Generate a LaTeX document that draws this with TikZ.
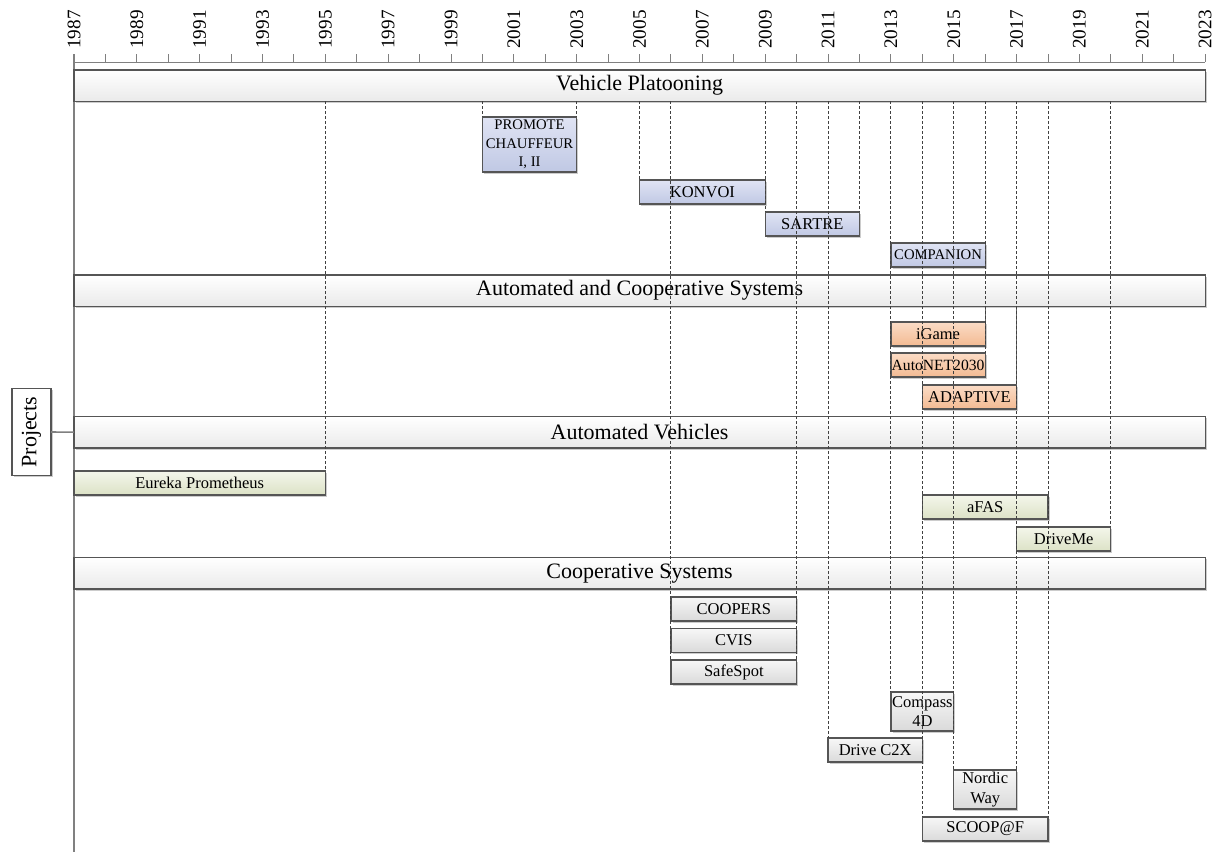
\documentclass[tikz,border=0pt]{standalone}
\usepackage{fontspec}
\setmainfont{Liberation Serif}
\usetikzlibrary{shadows}

\definecolor{boxline}{RGB}{85,85,85}
\definecolor{axisgrey}{RGB}{128,128,128}
\definecolor{bartop}{RGB}{255,255,255}
\definecolor{barbot}{RGB}{234,234,234}
\definecolor{vptop}{RGB}{224,228,244}
\definecolor{vpbot}{RGB}{192,200,228}
\definecolor{actop}{RGB}{251,220,198}
\definecolor{acbot}{RGB}{243,186,146}
\definecolor{avtop}{RGB}{244,246,235}
\definecolor{avbot}{RGB}{220,226,198}
\definecolor{cstop}{RGB}{247,247,247}
\definecolor{csbot}{RGB}{218,218,218}

% x position of a year, in pixels
\pgfmathdeclarefunction{yr}{1}{\pgfmathparse{74+(#1-1987)*31.42}}

\begin{document}
\begin{tikzpicture}[x=0.5pt,y=-0.5pt]
    \tikzset{projbox/.style = {shape=rectangle, draw=boxline, line width=0.6pt, inner sep=0pt, outer sep=0pt, anchor=north west, minimum height=12pt, align=center, font=\fontsize{8.25}{9.6}\selectfont, drop shadow={shadow xshift=0.8pt, shadow yshift=-0.8pt, fill=black!40, opacity=0.5}}}
    \tikzset{period/.style 2 args = {minimum width={(#2-#1)*15.71pt}}}
    \tikzset{catbar/.style = {projbox, top color=bartop, bottom color=barbot, minimum width=565.6pt, minimum height=15.7pt, font=\fontsize{11}{13}\selectfont}}
    \tikzset{vpbox/.style = {projbox, top color=vptop, bottom color=vpbot}}
    \tikzset{acbox/.style = {projbox, top color=actop, bottom color=acbot}}
    \tikzset{avbox/.style = {projbox, top color=avtop, bottom color=avbot}}
    \tikzset{csbox/.style = {projbox, top color=cstop, bottom color=csbot}}
    \tikzset{smalltext/.style = {font=\fontsize{7.35}{9.15}\selectfont}}
    \tikzset{yearlab/.style = {rotate=90, anchor=west, inner sep=0pt, font=\fontsize{9.6}{11}\selectfont}}
    \tikzset{axis/.style = {draw=axisgrey, line width=0.5pt}}
    \tikzset{guide/.style = {draw=black!75, line width=0.5pt, dash pattern=on 1.5pt off 1pt}}
    \tikzset{link/.style = {draw=black!60, line width=0.6pt}}

    \useasboundingbox (0,0) rectangle (1223,852);

    % time axis
    \coordinate (axtop) at ({yr(1987)},54);
    \coordinate (axbot) at ({yr(1987)},852);
    \draw[axis] ({yr(1987)},62) -- ({yr(2023)},62);
    \foreach \y in {1987,...,2023}
        \draw[axis] ({yr(\y)},54) -- ({yr(\y)},62);
    \foreach \y in {1987,1989,...,2023}
        \node[yearlab] (l\y) at ({yr(\y)},49) {\y};
    \draw[axis, line width=0.8pt] (axtop) -- (axbot);

    % categories
    \node[catbar] (vp) at (74,70) {Vehicle Platooning};
    \node[catbar] (acs) at (74,275) {Automated and Cooperative Systems};
    \node[catbar] (av) at (74,416.5) {Automated Vehicles};
    \node[catbar] (cs) at (74,557.5) {Cooperative Systems};

    \node[projbox, anchor=center, rotate=90, fill=white, minimum width=43.5pt, minimum height=19.5pt, font=\fontsize{11}{13}\selectfont] (projects) at (31.5,432) {Projects};
    \draw[axis, line width=0.8pt] (projects.south) -- (av.west);

    % projects
    \node[vpbox, period={2000}{2003}, minimum height=27.5pt, smalltext] (promote) at ({yr(2000)},117) {PROMOTE\\CHAUFFEUR\\I, II};
    \node[vpbox, period={2005}{2009}] (konvoi) at ({yr(2005)},180) {KONVOI};
    \node[vpbox, period={2009}{2012}] (sartre) at ({yr(2009)},212) {SARTRE};
    \node[vpbox, period={2013}{2016}, smalltext] (companion) at ({yr(2013)},243) {COMPANION};

    \node[acbox, period={2013}{2016}] (igame) at ({yr(2013)},322) {iGame};
    \node[acbox, period={2013}{2016}, font=\fontsize{7.8}{9.6}\selectfont] (autonet) at ({yr(2013)},353) {AutoNET2030};
    \node[acbox, period={2014}{2017}] (adaptive) at ({yr(2014)},385) {ADAPTIVE};

    \node[avbox, period={1987}{1995}] (eureka) at ({yr(1987)},471) {Eureka Prometheus};
    \node[avbox, period={2014}{2018}] (afas) at ({yr(2014)},495) {aFAS};
    \node[avbox, period={2017}{2020}] (driveme) at ({yr(2017)},527) {DriveMe};

    \node[csbox, period={2006}{2010}] (coopers) at ({yr(2006)},597) {COOPERS};
    \node[csbox, period={2006}{2010}] (cvis) at ({yr(2006)},628.5) {CVIS};
    \node[csbox, period={2006}{2010}] (safespot) at ({yr(2006)},660) {SafeSpot};
    \node[csbox, period={2013}{2015}, minimum height=19.5pt] (compass) at ({yr(2013)},692) {Compass\\4D};
    \node[csbox, period={2011}{2014}] (drivec2x) at ({yr(2011)},738) {Drive C2X};
    \node[csbox, period={2015}{2017}, minimum height=19.5pt] (nordic) at ({yr(2015)},770) {Nordic\\Way};
    \node[csbox, period={2014}{2018}] (scoop) at ({yr(2014)},817) {SCOOP@F};

    % start and end lines
    \draw[link] (acs.south -| igame.north east) -- (igame.north east);
    \draw[link] (acs.south -| adaptive.north east) -- (adaptive.north east);
    \draw[guide] (vp.south -| eureka.north east) -- (eureka.north east);
    \foreach \p in {promote,konvoi,sartre,companion,igame,autonet,adaptive,afas,driveme,coopers,cvis,safespot,compass,drivec2x,nordic,scoop}
    {
        \draw[guide] (vp.south -| \p.north west) -- (\p.north west);
        \draw[guide] (vp.south -| \p.north east) -- (\p.north east);
    }
\end{tikzpicture}
\end{document}
